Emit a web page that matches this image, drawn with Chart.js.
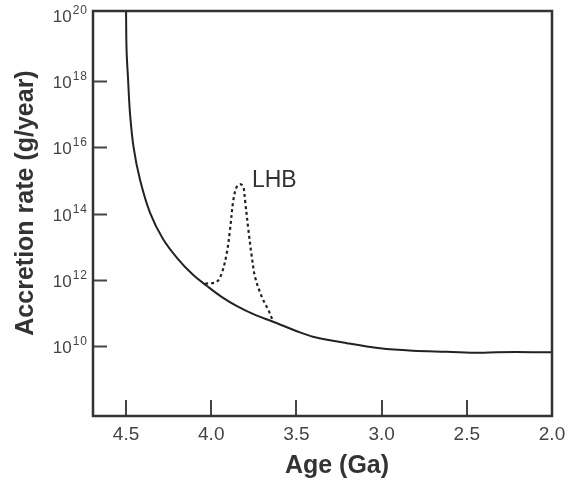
<!DOCTYPE html>
<html>
<head>
<meta charset="utf-8">
<script src="https://cdn.jsdelivr.net/npm/chart.js@4/dist/chart.umd.min.js"></script>
<style>html,body{margin:0;padding:0;background:#fff;}canvas{display:block;}</style>
</head>
<body>
<canvas id="c" width="569" height="481"></canvas>
<script>
// Main accretion curve (Age in Ga, rate in g/year)
const ages = [4.500, 4.497, 4.488, 4.477, 4.456, 4.418, 4.359, 4.283, 4.195, 4.107, 4.025, 3.937, 3.849, 3.749, 3.637, 3.479, 3.403, 3.203, 3.009, 2.816, 2.616, 2.423, 2.323, 2.000];
const rates = [1.32e20, 8.7e18, 1.10e18, 1.10e17, 1.02e16, 1.05e15, 1.05e14, 1.7e13, 4.2e12, 1.41e12, 6.5e11, 3.0e11, 1.6e11, 9.0e10, 5.4e10, 2.57e10, 1.91e10, 1.21e10, 8.5e9, 7.2e9, 6.7e9, 6.2e9, 6.5e9, 6.5e9];
// Late Heavy Bombardment spike (dotted)
const lhbAges = [4.036, 3.968, 3.938, 3.909, 3.890, 3.870, 3.850, 3.831, 3.812, 3.802, 3.782, 3.762, 3.743, 3.704, 3.665, 3.636];
const lhbRates = [7.6e11, 8.7e11, 1.6e12, 6.3e12, 3.2e13, 2.6e14, 6.5e14, 7.8e14, 6.5e14, 2.6e14, 3.2e13, 5.0e12, 1.23e12, 3.1e11, 1.23e11, 5.4e10];
// Ticks
const xTickValues = [4.5, 4.0, 3.5, 3.0, 2.5, 2.0];
const xTickLabels = ['4.5', '4.0', '3.5', '3.0', '2.5', '2.0'];
const yTickValues = [1e10, 1e12, 1e14, 1e16, 1e18, 1e20];
const yTickBase = '10';
const yTickExponents = ['10', '12', '14', '16', '18', '20'];
const yMarkValues = [1e10, 1e12, 1e14, 1e16, 1e18];
const xTitle = 'Age (Ga)';
const yTitle = 'Accretion rate (g/year)';
const lhbLabel = 'LHB';
const lhbLabelPos = {x: 3.761, y: 6.3e14};

const FONT = "'Liberation Sans', Arial, Helvetica, sans-serif";

const mainData = ages.map((a, i) => ({x: a, y: rates[i]}));
const lhbData = lhbAges.map((a, i) => ({x: a, y: lhbRates[i]}));

const decor = {
  id: 'decor',
  afterDatasetsDraw(chart) {
    const {ctx, chartArea: ca, scales: {x, y}} = chart;
    ctx.save();
    // inward ticks
    ctx.strokeStyle = '#444';
    ctx.lineWidth = 2;
    yMarkValues.forEach(v => {
      const py = Math.round(y.getPixelForValue(v)) + 0.5;
      ctx.beginPath(); ctx.moveTo(ca.left, py); ctx.lineTo(ca.left + 14, py); ctx.stroke();
    });
    xTickValues.forEach(v => {
      if (v === 2.0) return;
      const px = Math.round(x.getPixelForValue(v));
      ctx.beginPath(); ctx.moveTo(px, ca.bottom); ctx.lineTo(px, ca.bottom - 16); ctx.stroke();
    });
    // frame
    ctx.strokeStyle = '#333';
    ctx.lineWidth = 2.5;
    ctx.strokeRect(ca.left, ca.top, ca.right - ca.left, ca.bottom - ca.top);
    // y tick labels: 10 with superscript exponent
    ctx.fillStyle = '#444';
    ctx.textAlign = 'left';
    ctx.textBaseline = 'alphabetic';
    yTickValues.forEach((v, i) => {
      const py = y.getPixelForValue(v);
      ctx.font = '12px ' + FONT;
      ctx.letterSpacing = '1px';
      const ew = ctx.measureText(yTickExponents[i]).width;
      ctx.letterSpacing = '0px';
      ctx.font = '17px ' + FONT;
      const bw = ctx.measureText(yTickBase).width;
      const right = ca.left - 5;
      const start = right - ew - bw - 1;
      ctx.fillText(yTickBase, start, py + 7);
      ctx.font = '12px ' + FONT;
      ctx.letterSpacing = '1px';
      ctx.fillText(yTickExponents[i], start + bw + 1, py - 1);
      ctx.letterSpacing = '0px';
    });
    // LHB label
    ctx.fillStyle = '#333';
    ctx.font = '23px ' + FONT;
    ctx.fillText(lhbLabel, x.getPixelForValue(lhbLabelPos.x), y.getPixelForValue(lhbLabelPos.y));
    // axis titles
    ctx.font = 'bold 25px ' + FONT;
    ctx.textAlign = 'center';
    ctx.textBaseline = 'middle';
    ctx.fillText(xTitle, 337, 466);
    ctx.translate(26, 203);
    ctx.rotate(-Math.PI / 2);
    ctx.fillText(yTitle, 0, 0);
    ctx.restore();
  }
};

new Chart(document.getElementById('c'), {
  type: 'line',
  data: {
    datasets: [
      {data: mainData, borderColor: '#222', borderWidth: 2, pointRadius: 0, tension: 0.35, fill: false},
      {data: lhbData, borderColor: '#222', borderWidth: 2.2, borderDash: [3, 3], pointRadius: 0, tension: 0.35, fill: false}
    ]
  },
  options: {
    responsive: false,
    animation: false,
    layout: {padding: {top: 11, right: 17, left: 0, bottom: 0}},
    plugins: {legend: {display: false}, tooltip: {enabled: false}},
    scales: {
      x: {
        type: 'linear',
        reverse: true,
        min: 2.0,
        max: 4.694,
        afterBuildTicks: s => { s.ticks = xTickValues.map(v => ({value: v})); },
        afterFit: s => { s.height = 65; s.paddingLeft = 0; s.paddingRight = 0; },
        grid: {display: false, drawTicks: false},
        border: {display: false},
        ticks: {
          padding: 7,
          color: '#444',
          font: {family: FONT, size: 19},
          maxRotation: 0,
          autoSkip: false,
          callback: (v) => xTickLabels[xTickValues.indexOf(v)]
        }
      },
      y: {
        type: 'logarithmic',
        min: 7.67e7,
        max: 1.318e20,
        afterBuildTicks: s => { s.ticks = yTickValues.map(v => ({value: v})); },
        afterFit: s => { s.width = 93; s.paddingTop = 0; s.paddingBottom = 0; },
        grid: {display: false, drawTicks: false},
        border: {display: false},
        ticks: {display: false}
      }
    }
  },
  plugins: [decor]
});
</script>
</body>
</html>
